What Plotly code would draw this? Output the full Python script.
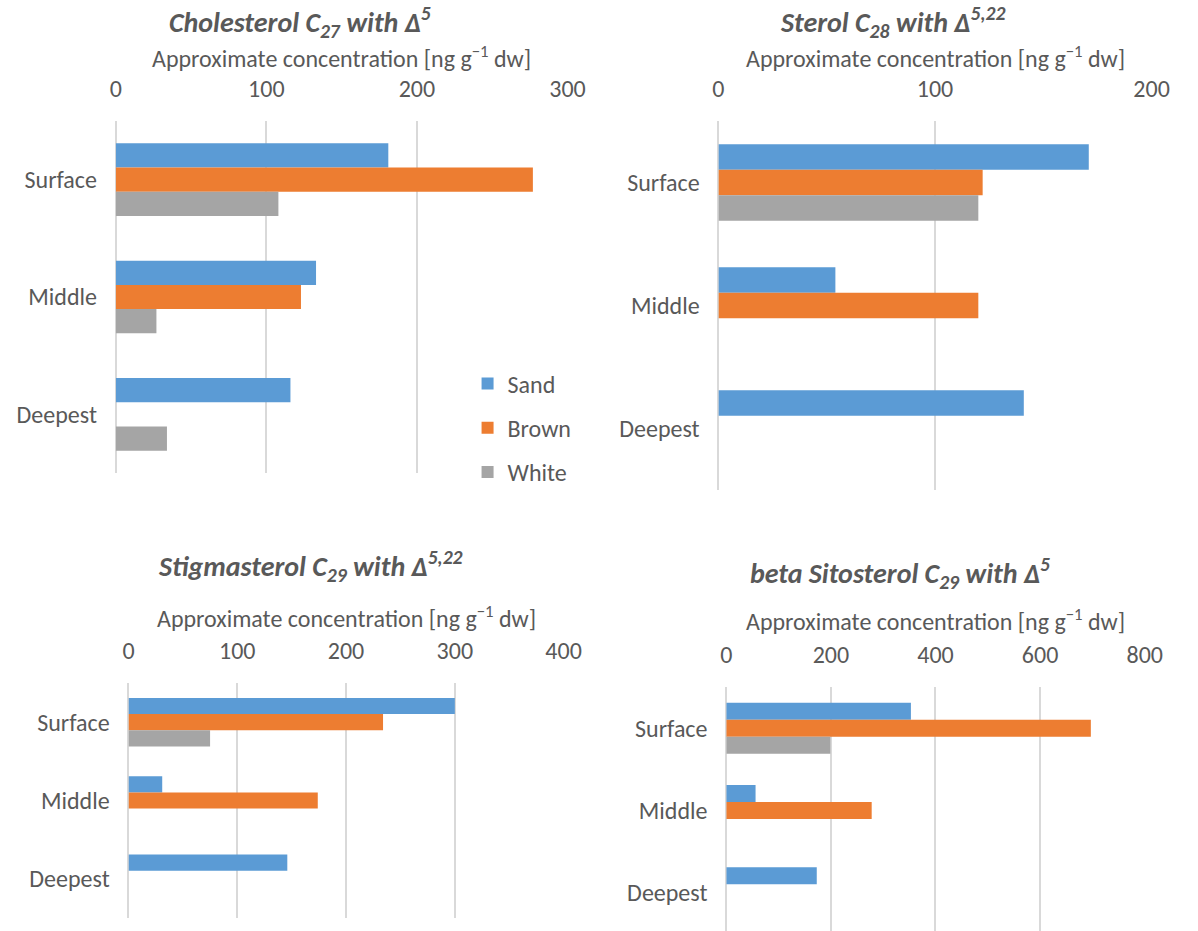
import plotly.graph_objects as go

# Sediment layers (top to bottom) and mat types
layers = ["Surface", "Middle", "Deepest"]
series = ["Sand", "Brown", "White"]
colors = {"Sand": "#5B9BD5", "Brown": "#ED7D31", "White": "#A5A5A5"}

# Approximate concentrations [ng g-1 dw] per sterol, per layer
cholesterol = {"Sand": [181, 133, 116], "Brown": [277, 123, None], "White": [108, 27, 34]}
sterol_c28 = {"Sand": [171, 54, 141], "Brown": [122, 120, None], "White": [120, None, None]}
stigmasterol = {"Sand": [300, 31, 146], "Brown": [234, 174, None], "White": [75, None, None]}
sitosterol = {"Sand": [353, 56, 173], "Brown": [697, 278, None], "White": [199, None, None]}

titles = [
    "Cholesterol C<sub>27</sub> with Δ<sup>5</sup>",
    "Sterol C<sub>28</sub> with Δ<sup>5,22</sup>",
    "Stigmasterol C<sub>29</sub> with Δ<sup>5,22</sup>",
    "beta Sitosterol C<sub>29</sub> with Δ<sup>5</sup>",
]
x_ranges = [[0, 300], [0, 200], [0, 400], [0, 800]]
x_dtick = [100, 100, 100, 200]
axis_title = "Approximate concentration [ng g<sup>−1</sup> dw]"

W, H = 1198, 931
FONT = "Calibri, Carlito, Lato, sans-serif"
TXT = "#595959"
GRID = "#D9D9D9"
FS = 24

# Panel geometry in pixels: plot left, right, top, bottom, y-range bottom
panels = [
    dict(l=112, r=573, t=121, b=473, ybot=2.5, title_x=300, title_y=22, atitle_y=57),
    dict(l=727, r=1169, t=121, b=490, ybot=2.5, title_x=905, title_y=22, atitle_y=57),
    dict(l=125, r=569, t=683, b=918, ybot=2.5, title_x=311, title_y=566, atitle_y=617),
    dict(l=735, r=1162, t=687, b=931, ybot=2.464, title_x=912, title_y=573, atitle_y=620),
]
datasets = [cholesterol, sterol_c28, stigmasterol, sitosterol]

fig = go.Figure()
annotations = []
for i, (data, p) in enumerate(zip(datasets, panels)):
    n = "" if i == 0 else str(i + 1)
    for s in series:
        fig.add_trace(go.Bar(
            y=layers, x=data[s], name=s, orientation="h",
            marker=dict(color=colors[s], line=dict(width=0)),
            xaxis="x" + n, yaxis="y" + n,
            legendgroup=s, showlegend=(i == 0),
        ))
    fig.layout["xaxis" + n] = dict(
        domain=[p["l"] / W, p["r"] / W], anchor="y" + n, side="top",
        range=x_ranges[i], dtick=x_dtick[i], tick0=0,
        showgrid=True, gridcolor=GRID, gridwidth=1.5,
        zeroline=True, zerolinecolor=GRID, zerolinewidth=1.5,
        showline=False, ticks="outside", ticklen=13, tickcolor="rgba(0,0,0,0)",
        tickfont=dict(family=FONT, size=FS, color=TXT), fixedrange=True,
    )
    fig.layout["yaxis" + n] = dict(
        domain=[1 - p["b"] / H, 1 - p["t"] / H], anchor="x" + n,
        type="category", categoryorder="array", categoryarray=layers,
        range=[p["ybot"], -0.5], showgrid=False, zeroline=False, showline=False,
        ticks="outside", ticklen=13, tickcolor="rgba(0,0,0,0)",
        tickfont=dict(family=FONT, size=FS, color=TXT), fixedrange=True,
    )
    annotations.append(dict(
        text="<b><i>" + titles[i] + "</i></b>", xref="paper", yref="paper",
        x=p["title_x"] / W, y=1 - p["title_y"] / H, xanchor="center", yanchor="middle",
        showarrow=False, font=dict(family=FONT, size=28, color=TXT),
    ))
    annotations.append(dict(
        text=axis_title, xref="paper", yref="paper",
        x=(p["l"] + p["r"]) / 2 / W, y=1 - p["atitle_y"] / H,
        xanchor="center", yanchor="middle",
        showarrow=False, font=dict(family=FONT, size=FS, color=TXT),
    ))

fig.update_layout(
    width=W, height=H, margin=dict(l=0, r=0, t=0, b=0),
    paper_bgcolor="white", plot_bgcolor="white",
    barmode="group", bargap=0.38, bargroupgap=0,
    annotations=annotations,
    legend=dict(
        x=471 / W, y=1 - 428 / H, xanchor="left", yanchor="middle",
        bgcolor="rgba(0,0,0,0)", tracegroupgap=10, traceorder="grouped",
        font=dict(family=FONT, size=FS, color=TXT),
    ),
)

fig.write_html("out.html")
